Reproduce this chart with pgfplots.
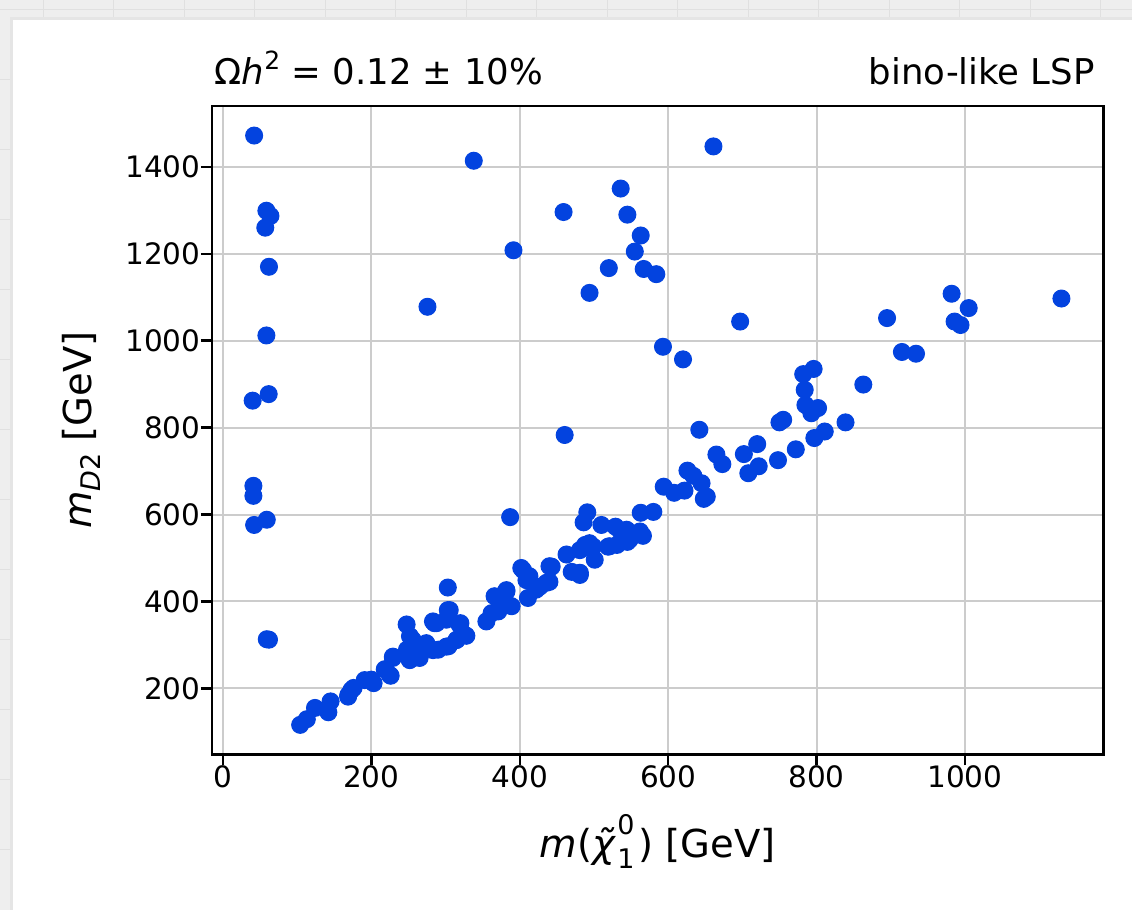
\documentclass[border=0pt]{standalone}
\usepackage{fontspec}
\setmainfont{DejaVu Sans}
\usepackage{pgfplots}
\pgfplotsset{compat=1.18}
\definecolor{dotblue}{RGB}{3,67,223}
\definecolor{paper}{RGB}{238,238,238}
\definecolor{paperline}{RGB}{224,224,224}
\newlength\px
\setlength\px{0.4pt}

\begin{document}
\begin{tikzpicture}[x=\px,y=\px]
\useasboundingbox (0,0) rectangle (1132,910);
% graph-paper background and white card
\fill[paper] (0,0) rectangle (1132,910);
\foreach \i in {0,...,15} \draw[paperline] (43+70.5*\i,0) -- (43+70.5*\i,910);
\foreach \j in {0,...,12} \draw[paperline] (0,60+70*\j) -- (1132,60+70*\j);
\fill[black!10] (10,0) rectangle (1132,893);
\fill[white] (13,0) rectangle (1132,890);

\begin{axis}[
  at={(212\px,155.7\px)}, anchor=south west,
  scale only axis, width=891.5\px, height=648.3\px,
  xmin=-14.8, xmax=1186.7, ymin=48.3, ymax=1540,
  clip mode=individual,
  xtick={0,200,...,1000}, ytick={200,400,...,1400},
  xtick pos=left, ytick pos=left,
  tick align=outside, major tick length=11\px,
  tick style={black, line width=1pt},
  axis line style={line width=1pt},
  grid=major, major grid style={gray!40, line width=0.8pt},
  tick label style={font=\fontsize{11.8}{14}\selectfont},
  /pgf/number format/assume math mode=true,
  /pgf/number format/1000 sep={},
  xticklabel style={inner sep=0pt},
  yticklabel style={inner sep=0pt},
  xlabel={\textit{m}(\textit{χ̃}\rlap{\raisebox{0.6em}{\fontsize{10.8}{12}\selectfont 0}}\raisebox{-0.3em}{\fontsize{10.8}{12}\selectfont 1}\hspace{0.1em}) [GeV]},
  ylabel={\textit{m}\raisebox{-0.25em}{\fontsize{10.8}{12}\selectfont\textit{D}2} [GeV]},
  label style={font=\fontsize{15.4}{18}\selectfont},
  xlabel style={at={(axis description cs:0.5,-0.1589)}, anchor=base},
  ylabel style={at={(axis description cs:-0.1357,0.5)}, anchor=base},
]
% m(chi_1^0) [GeV], m_D2 [GeV]
\addplot[only marks, mark=*, mark size=3.4pt, color=dotblue] table {
x y
42 1472
338 1414
661 1447
58.5 1299
64 1287
57 1260
62 1170
58.5 1012
40 862
61.6 877
459 1296
536 1350
545 1290
563 1242
555 1205
567 1165
520 1167
584 1153
391.5 1208
494 1110
275.6 1078
697 1044
593 986
620 957
982 1108
1005 1075
1130 1097
895 1052
986 1044
994 1036
915 974
934 970
796 935
782 923
784 887
863 899
785 852
802 845
793 833
839 812
750 812
755 818
642 795
811 791
797 776
772 750
748 725
720 762
702 739
665 738
673 716
722 711
708 695
626 701
634 689
645 672
594 664
608 650
622 655
648 636
652 641
563 604
580 606
460.5 783
41 666
41 643
42 576
59 588
59 313
62 312
387 594
303 432
104 116
113 129
124 155
145 170
142 145
169 185
176 201
200 220
203 212
218 244
226 229
229 270
247.5 347
252 320
248 289
252 266
265 270
256 297
274 304
283 354
290 289
301 358
304 377
315 312
320 350
328 321
304 297
355 354
362 373
366 412
378 416
389 389
382 423
402 477
413 458
411 408
422 427
436 443
440 481
463 508
470 468
481 466
491 605
486 582
510 576
529 572
535 563
521 527
490 527
501 496
548 542
564 554
566 551
545 537
531 530
519 526
499 526
488 530
443 480
440 445
303 380
287.7 350
319 346
326 323
314.7 311
256 311
265 300
283 288
301 296
251.7 265
229 273
224.8 231
191 219
173 196
168.6 181
544 565
562 561
494 534
481 518
481 461
404.5 472
409 449
427 434
382 426
382 396
371 377
285 350
305.6 380
};
\node[anchor=base west, xshift=-6\px, font=\fontsize{14.2}{17}\selectfont] at (rel axis cs:0,1.0324)
  {Ω\textit{h}\raisebox{0.45em}{\fontsize{10}{12}\selectfont 2} = 0.12 ± 10\%};
\node[anchor=base east, font=\fontsize{14.2}{17}\selectfont] at (rel axis cs:1,1.0324)
  {bino-like LSP};
\end{axis}
\end{tikzpicture}
\end{document}
